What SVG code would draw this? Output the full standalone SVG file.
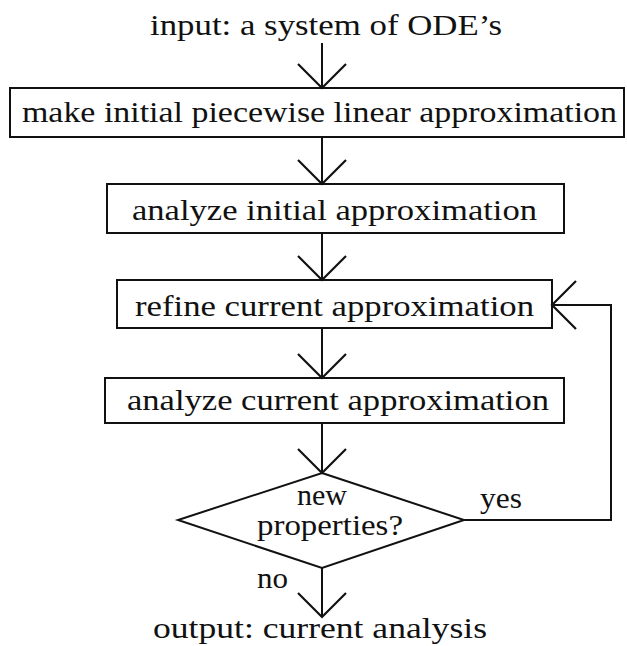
<svg xmlns="http://www.w3.org/2000/svg" width="627" height="646" viewBox="0 0 627 646">
<style>
  text { font-family: "Liberation Serif", "Times New Roman", serif; font-size: 30px; fill: #111; }
  .box { fill: #fff; stroke: #111; stroke-width: 2; }
  .conn { fill: none; stroke: #111; stroke-width: 2; }
</style>
<defs>
  <marker id="vhead" markerUnits="userSpaceOnUse" orient="auto" refX="0" refY="0" markerWidth="60" markerHeight="60" overflow="visible">
    <path d="M-24,-24 L0,0 L-24,24" fill="none" stroke="#111" stroke-width="2.2"/>
  </marker>
</defs>
<rect width="627" height="646" fill="#fff"/>
<g id="input">
  <text x="150" y="35" textLength="352" lengthAdjust="spacingAndGlyphs">input: a system of ODE’s</text>
</g>
<g id="make-initial">
  <rect class="box" x="10" y="88" width="614" height="49"/>
  <text x="22" y="122" textLength="595" lengthAdjust="spacingAndGlyphs">make initial piecewise linear approximation</text>
</g>
<g id="analyze-initial">
  <rect class="box" x="107" y="184" width="457" height="49"/>
  <text x="132" y="220" textLength="405" lengthAdjust="spacingAndGlyphs">analyze initial approximation</text>
</g>
<g id="refine">
  <rect class="box" x="117" y="280" width="435" height="48"/>
  <text x="135" y="316" textLength="399" lengthAdjust="spacingAndGlyphs">refine current approximation</text>
</g>
<g id="analyze-current">
  <rect class="box" x="105" y="378" width="459" height="45"/>
  <text x="127" y="410" textLength="422" lengthAdjust="spacingAndGlyphs">analyze current approximation</text>
</g>
<g id="decision">
  <polygon class="box" points="322,473 464,520 322,568 178,520"/>
  <text x="322" y="505" text-anchor="middle">new</text>
  <text x="257" y="535" textLength="146" lengthAdjust="spacingAndGlyphs">properties?</text>
</g>
<g id="output">
  <text x="153" y="638" textLength="334" lengthAdjust="spacingAndGlyphs">output: current analysis</text>
</g>
<g id="connectors">
  <path class="conn" d="M322,43 V88" marker-end="url(#vhead)"/>
  <path class="conn" d="M322,137 V184" marker-end="url(#vhead)"/>
  <path class="conn" d="M322,233 V280" marker-end="url(#vhead)"/>
  <path class="conn" d="M322,328 V378" marker-end="url(#vhead)"/>
  <path class="conn" d="M322,423 V473" marker-end="url(#vhead)"/>
  <path class="conn" d="M464,520 H611 V305 H552" marker-end="url(#vhead)"/>
  <path class="conn" d="M322,568 V617" marker-end="url(#vhead)"/>
  <text x="480" y="508" textLength="42" lengthAdjust="spacingAndGlyphs">yes</text>
  <text x="257" y="588" textLength="31" lengthAdjust="spacingAndGlyphs">no</text>
</g>
</svg>
